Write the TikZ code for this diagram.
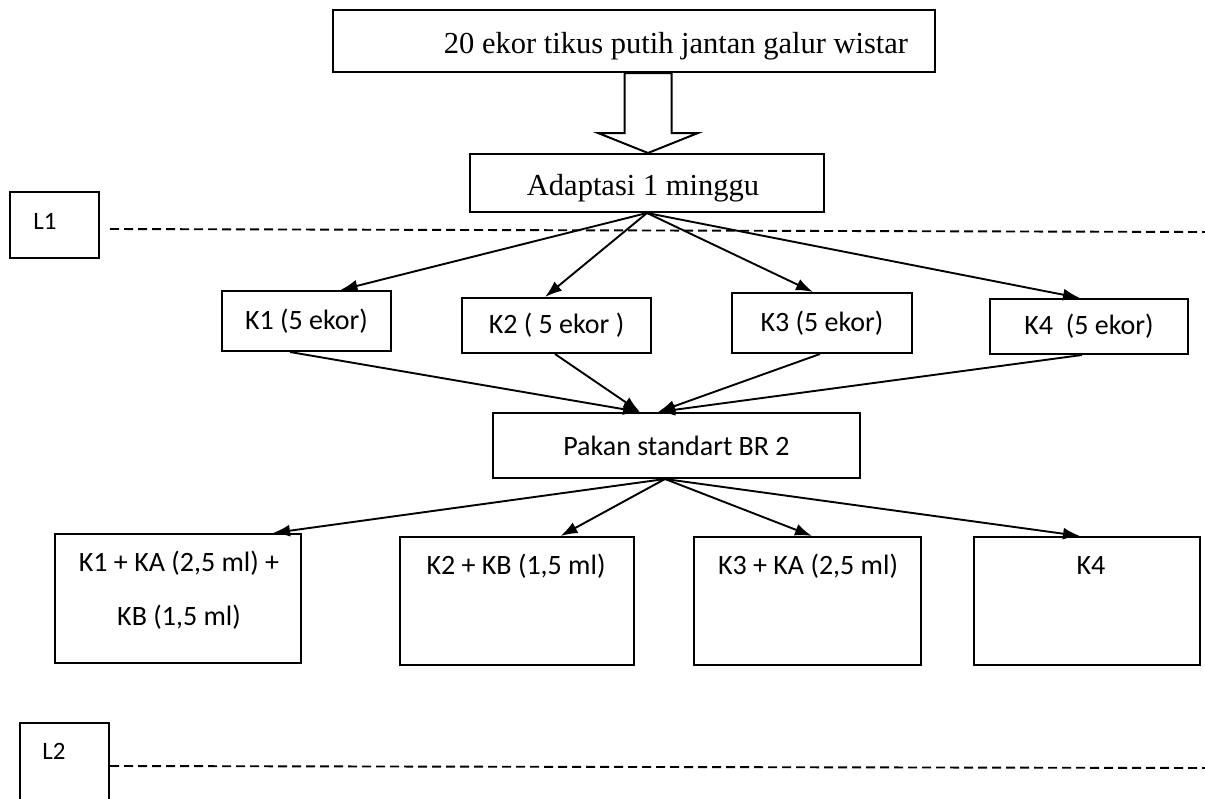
\documentclass[tikz,border=0pt]{standalone}
\usepackage{fontspec}
\newfontfamily\carl{Carlito}
\newfontfamily\tnr{Liberation Serif}
\usetikzlibrary{arrows.meta,calc}
\begin{document}
\begin{tikzpicture}[x=1pt,y=-1pt,
  box/.style={draw, line width=2pt, inner sep=0pt},
  sans/.style={font=\carl\fontsize{28}{54}\selectfont, inner sep=0pt},
  small/.style={font=\carl\fontsize{25}{30}\selectfont, inner sep=0pt},
  serif/.style={font=\tnr\fontsize{30.5}{36}\selectfont, inner sep=0pt},
  arr/.style={line width=1.9pt, -{Latex[length=17pt,width=12pt]}},
  dashline/.style={line width=1.9pt, dash pattern=on 9pt off 5pt},
  hollow/.style={draw, line width=2pt, fill=white, line join=miter}]
\fill[white] (0,0) rectangle (1205,798);
\useasboundingbox (0,0) rectangle (1205,798);
\clip (0,0) rectangle (1205,798);

% dashed level lines
\coordinate (d1a) at (110,229);
\coordinate (d1b) at (1205,232);
\coordinate (d2a) at (110,766);
\coordinate (d2b) at (1205,768);
\draw[dashline] (d1a) -- (d1b);
\draw[dashline] (d2a) -- (d2b);

% level boxes
\node[box, minimum width=89pt, minimum height=66pt] (l1) at (54.5,225) {};
\node[small] (l1t) at (45,221) {L1};
\node[box, minimum width=89pt, minimum height=87pt] (l2) at (64.5,766.5) {};
\node[small] (l2t) at (54,751) {L2};

% top
\node[box, minimum width=602pt, minimum height=62pt] (top) at (634,41) {};
\node[serif] (toptext) at (676,46) {20 ekor tikus putih jantan galur wistar};
\node[box, minimum width=354pt, minimum height=58pt] (ada) at (647,183) {};
\node[serif] (adatext) at (643,188) {Adaptasi 1 minggu};

% hollow arrow
\coordinate (tip) at ([xshift=1pt]ada.north);
\draw[hollow] (tip) -- ++(-50,-20) -- ++(26.5,0)
  -- ($(tip |- top.south)+(-23.5,0)$) -- ($(tip |- top.south)+(23.5,0)$)
  -- ($(tip)+(23.5,-20)$) -- ($(tip)+(50,-20)$) -- cycle;

% groups
\node[box, sans, minimum width=169pt, minimum height=60pt] (k1) at (306.5,321) {K1 (5 ekor)};
\node[box, sans, minimum width=189pt, minimum height=55pt] (k2) at (556.5,325.5) {K2 ( 5 ekor )};
\node[box, sans, minimum width=180pt, minimum height=60pt] (k3) at (822,323) {K3 (5 ekor)};
\node[box, sans, minimum width=198pt, minimum height=55pt] (k4) at (1089,326.5) {K4\ \ (5 ekor)};

\node[box, sans, minimum width=367pt, minimum height=65pt] (pakan) at (676.5,445.5) {Pakan standart BR 2};

% treatments
\node[box, minimum width=246pt, minimum height=129pt] (b1) at (178,598.5) {};
\node[sans, align=center] (b1t) at (179,590) {K1 + KA (2,5 ml) +\\KB (1,5 ml)};
\node[box, minimum width=234pt, minimum height=128pt] (b2) at (517,601) {};
\node[sans] (b2t) at (516,566) {K2 + KB (1,5 ml)};
\node[box, minimum width=227pt, minimum height=128pt] (b3) at (807.5,601) {};
\node[sans] (b3t) at (808,566) {K3 + KA (2,5 ml)};
\node[box, minimum width=226pt, minimum height=128pt] (b4) at (1087,601) {};
\node[sans] (b4t) at (1091,566) {K4};

% arrows
\draw[arr] (ada.south) -- ([xshift=34pt]k1.north);
\draw[arr] (ada.south) -- ([xshift=-11.5pt]k2.north);
\draw[arr] (ada.south) -- ([xshift=-9pt]k3.north);
\draw[arr] (ada.south) -- ([xshift=-9pt]k4.north);

\draw[arr] ([xshift=-16.5pt]k1.south) -- ([xshift=-36.5pt]pakan.north);
\draw[arr] ([xshift=-1.5pt]k2.south) -- ([xshift=-36.5pt]pakan.north);
\draw[arr] ([xshift=-2pt]k3.south) -- ([xshift=-18.5pt]pakan.north);
\draw[arr] ([xshift=-7pt]k4.south) -- ([xshift=-18.5pt]pakan.north);

\draw[arr] ([xshift=-11.5pt]pakan.south) -- ([xshift=95pt]b1.north);
\draw[arr] ([xshift=-11.5pt]pakan.south) -- ([xshift=43.5pt]b2.north);
\draw[arr] ([xshift=-11.5pt]pakan.south) -- ([xshift=4.5pt]b3.north);
\draw[arr] ([xshift=-11.5pt]pakan.south) -- ([xshift=-7pt]b4.north);
\end{tikzpicture}
\end{document}
